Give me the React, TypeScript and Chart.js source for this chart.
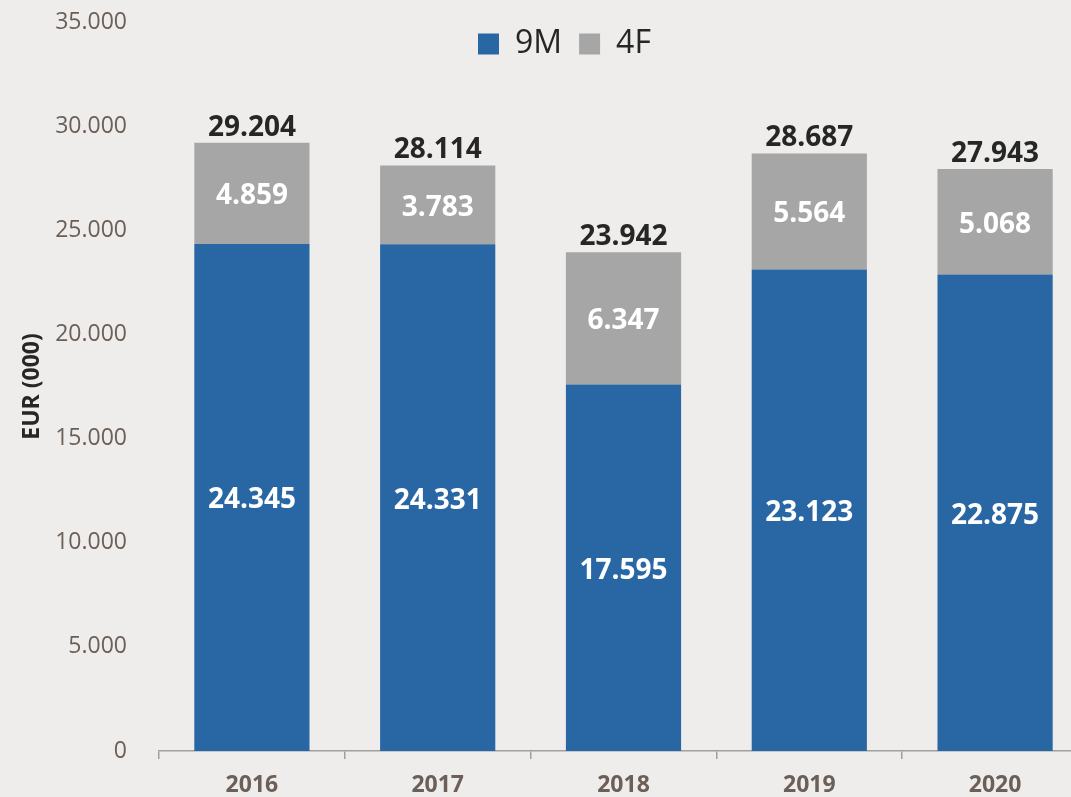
import React, { useEffect, useRef } from "react";
import { Chart, registerables } from "chart.js";

Chart.register(...registerables);

const categories = ["2016", "2017", "2018", "2019", "2020"];
const series9M = [24345, 24331, 17595, 23123, 22875];
const series4F = [4859, 3783, 6347, 5564, 5068];
const yTicks = [0, 5000, 10000, 15000, 20000, 25000, 30000, 35000];
const legendLabels = ["9M", "4F"];
const yTitle = "EUR (000)";

const BLUE = "#2967A4";
const GRAY = "#A6A6A6";
const BG = "#EEEDEB";
const TICK_COLOR = "#6B5F57";
const DARK = "#262626";
const AXIS = "#A0A0A0";
const FONT = "'Open Sans', 'Noto Sans', sans-serif";

const fmt = (v: number) =>
  String(Math.round(v)).replace(/\B(?=(\d{3})+(?!\d))/g, ".");

const valueLabels = {
  id: "valueLabels",
  afterDatasetsDraw(chart: any) {
    const ctx = chart.ctx;
    ctx.save();
    ctx.textAlign = "center";
    ctx.textBaseline = "middle";
    ctx.font = `bold 28px ${FONT}`;
    ctx.fillStyle = "#FFFFFF";
    chart.data.datasets.forEach((ds: any, di: number) => {
      const meta = chart.getDatasetMeta(di);
      meta.data.forEach((bar: any, i: number) => {
        const cy = (bar.y + bar.base) / 2;
        ctx.fillText(fmt(ds.data[i]), bar.x, cy + 3);
      });
    });
    const last = chart.getDatasetMeta(chart.data.datasets.length - 1);
    ctx.fillStyle = DARK;
    last.data.forEach((bar: any, i: number) => {
      const total = series9M[i] + series4F[i];
      ctx.fillText(fmt(total), bar.x, bar.y - 15);
    });
    ctx.restore();
  },
};

const LEGEND_X = 478;
const LEGEND_TEXT_CY = 44;
const LEGEND_PAD = 17;
const LEGEND_FONT = 32;

const legendShift = {
  id: "legendShift",
  beforeLayout(chart: any) {
    const lg = chart.legend;
    if (lg) lg.isHorizontal = () => true;
  },
  afterLayout(chart: any) {
    const lg = chart.legend;
    if (!lg) return;
    const w = lg.right - lg.left;
    const h = lg.bottom - lg.top;
    lg.left = LEGEND_X - LEGEND_PAD;
    lg.right = lg.left + w;
    lg.top = LEGEND_TEXT_CY - LEGEND_FONT / 2 - LEGEND_PAD;
    lg.bottom = lg.top + h;
  },
};

export default function App() {
  const ref = useRef<HTMLCanvasElement | null>(null);

  useEffect(() => {
    if (!ref.current) return;
    Chart.defaults.font.family = FONT;
    const chart = new Chart(ref.current, {
      type: "bar",
      data: {
        labels: categories,
        datasets: [
          {
            label: legendLabels[0],
            data: series9M,
            backgroundColor: BLUE,
            borderWidth: 0,
            categoryPercentage: 1,
            barPercentage: 0.62,
          },
          {
            label: legendLabels[1],
            data: series4F,
            backgroundColor: GRAY,
            borderWidth: 0,
            categoryPercentage: 1,
            barPercentage: 0.62,
          },
        ],
      },
      options: {
        responsive: false,
        animation: false,
        devicePixelRatio: 1,
        layout: { padding: { top: 22, left: 0, right: 0, bottom: 0 } },
        plugins: {
          tooltip: { enabled: false },
          legend: {
            position: "chartArea" as any,
            align: "start",
            labels: {
              boxWidth: 21,
              boxHeight: 21,
              padding: LEGEND_PAD,
              color: DARK,
              font: { size: LEGEND_FONT, family: FONT },
            },
          },
        },
        scales: {
          x: {
            stacked: true,
            offset: true,
            grid: {
              display: true,
              drawOnChartArea: false,
              drawTicks: true,
              tickLength: 8,
              offset: true,
              color: AXIS,
              lineWidth: 1.5,
            },
            border: { display: true, color: AXIS, width: 1.5 },
            ticks: {
              color: TICK_COLOR,
              padding: 13,
              font: { size: 23, weight: "bold", family: FONT },
            },
            afterFit(scale: any) {
              scale.height = 46;
            },
          },
          y: {
            stacked: true,
            min: 0,
            max: 35000,
            grid: { display: false, drawTicks: true, tickLength: 28 },
            border: { display: false },
            afterBuildTicks(scale: any) {
              scale.ticks = yTicks.map((v) => ({ value: v }));
            },
            ticks: {
              color: TICK_COLOR,
              padding: 4,
              font: { size: 23, family: FONT },
              callback: (v: any) => fmt(Number(v)),
            },
            title: {
              display: true,
              text: yTitle,
              color: DARK,
              padding: { top: 19, bottom: 0 },
              font: { size: 23, weight: "bold", family: FONT },
            },
            afterFit(scale: any) {
              scale.width = 159;
            },
          },
        },
      },
      plugins: [legendShift, valueLabels],
    });
    return () => chart.destroy();
  }, []);

  return (
    <div
      style={{
        position: "fixed",
        left: 0,
        top: 0,
        width: 1071,
        height: 797,
        overflow: "hidden",
        background: BG,
      }}
    >
      <canvas ref={ref} width={1088} height={797} style={{ display: "block" }} />
    </div>
  );
}
